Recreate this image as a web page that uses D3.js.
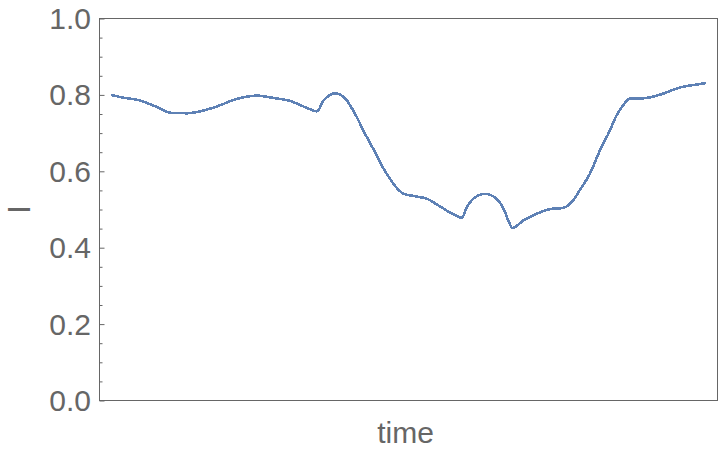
<!DOCTYPE html>
<html>
<head>
<meta charset="utf-8">
<script src="https://cdn.jsdelivr.net/npm/d3@7"></script>
<style>
  body { margin: 0; background: #fff; }
  svg { display: block; }
</style>
</head>
<body>
<script>
// data (time in arbitrary units 0..100)
const time = [0, 1.6, 4.9, 7.7, 10.0, 12.8, 15.0, 17.8, 21.2, 24.5, 27.3, 30.1, 32.9, 34.6,
  35.7, 37.7, 39.4, 40.2, 41.3, 42.4, 43.6, 44.7, 45.8, 46.9, 48.0, 49.2, 51.4, 53.1,
  55.3, 57.6, 59.0, 59.8, 60.9, 62.9, 64.8, 66.0, 66.8, 67.5, 69.3, 71.6, 73.8, 76.0,
  77.7, 78.8, 80.5, 82.2, 83.9, 85.0, 86.1, 87.2, 89.5, 92.8, 95.6, 98.4, 100];
const intensity = [0.800, 0.794, 0.785, 0.768, 0.753, 0.752, 0.757, 0.770, 0.790, 0.798,
  0.792, 0.784, 0.766, 0.757, 0.785, 0.804, 0.790, 0.772, 0.742, 0.707, 0.672, 0.641,
  0.607, 0.580, 0.557, 0.541, 0.534, 0.528, 0.508, 0.487, 0.478, 0.506, 0.528, 0.541,
  0.528, 0.502, 0.471, 0.452, 0.471, 0.489, 0.501, 0.504, 0.524, 0.550, 0.593, 0.654,
  0.707, 0.746, 0.772, 0.790, 0.791, 0.803, 0.819, 0.827, 0.831];
const yTicks = [0, 0.2, 0.4, 0.6, 0.8, 1.0];

const width = 720, height = 450;
const margin = {left: 99.5, right: 717.5, top: 18.5, bottom: 400.5};
const gray = "#666666";
const font = "'Liberation Sans', Arial, sans-serif";

const svg = d3.select("body")
  .append("svg")
    .attr("width", width)
    .attr("height", height);

// x has 2% padding each side like the original plot
const span = d3.max(time) - d3.min(time);
const xScale = d3.scaleLinear()
    .domain([d3.min(time) - 0.02 * span, d3.max(time) + 0.02 * span])
    .range([margin.left, margin.right]);

const yScale = d3.scaleLinear()
    .domain([0, 1])
    .range([margin.bottom, margin.top]);

// frame
svg.append("rect")
    .attr("x", margin.left)
    .attr("y", margin.top)
    .attr("width", margin.right - margin.left)
    .attr("height", margin.bottom - margin.top)
    .attr("fill", "none")
    .attr("stroke", gray)
    .attr("stroke-width", 1);

// left ticks, major and minor, pointing inward
const minor = d3.range(0, 1.0001, 0.05).filter(v => Math.abs(v * 5 - Math.round(v * 5)) > 1e-6);
svg.append("g")
    .attr("transform", "translate(" + margin.left + ",0)")
    .call(d3.axisLeft(yScale).tickValues(yTicks).tickSize(-5).tickFormat(""))
    .call(g => g.select(".domain").remove())
    .call(g => g.selectAll("line").attr("stroke", gray));
svg.append("g")
    .attr("transform", "translate(" + margin.left + ",0)")
    .call(d3.axisLeft(yScale).tickValues(minor).tickSize(-3).tickFormat(""))
    .call(g => g.select(".domain").remove())
    .call(g => g.selectAll("line").attr("stroke", gray));

// tick labels
svg.append("g")
    .selectAll("text")
    .data(yTicks)
    .enter()
    .append("text")
      .attr("x", 91)
      .attr("y", d => yScale(d))
      .attr("dy", "0.35em")
      .attr("text-anchor", "end")
      .attr("font-family", font)
      .attr("font-size", 30)
      .attr("fill", gray)
      .text(d => d3.format(".1f")(d));

// axis labels
svg.append("text")
    .attr("x", 405.5)
    .attr("y", 443)
    .attr("text-anchor", "middle")
    .attr("font-family", font)
    .attr("font-size", 30)
    .attr("fill", gray)
    .text("time");

svg.append("text")
    .attr("transform", "translate(29.5," + (margin.top + margin.bottom) / 2 + ") rotate(-90)")
    .attr("text-anchor", "middle")
    .attr("font-family", font)
    .attr("font-size", 31)
    .attr("fill", gray)
    .text("I");

// the curve, aliased like the original raster
const line = d3.line()
    .x(d => xScale(d[0]))
    .y(d => yScale(d[1]))
    .curve(d3.curveMonotoneX);

svg.append("path")
    .datum(d3.zip(time, intensity))
    .attr("d", line)
    .attr("fill", "none")
    .attr("stroke", "#5E81B5")
    .attr("stroke-width", 2.6)
    .attr("shape-rendering", "crispEdges");
</script>
</body>
</html>
